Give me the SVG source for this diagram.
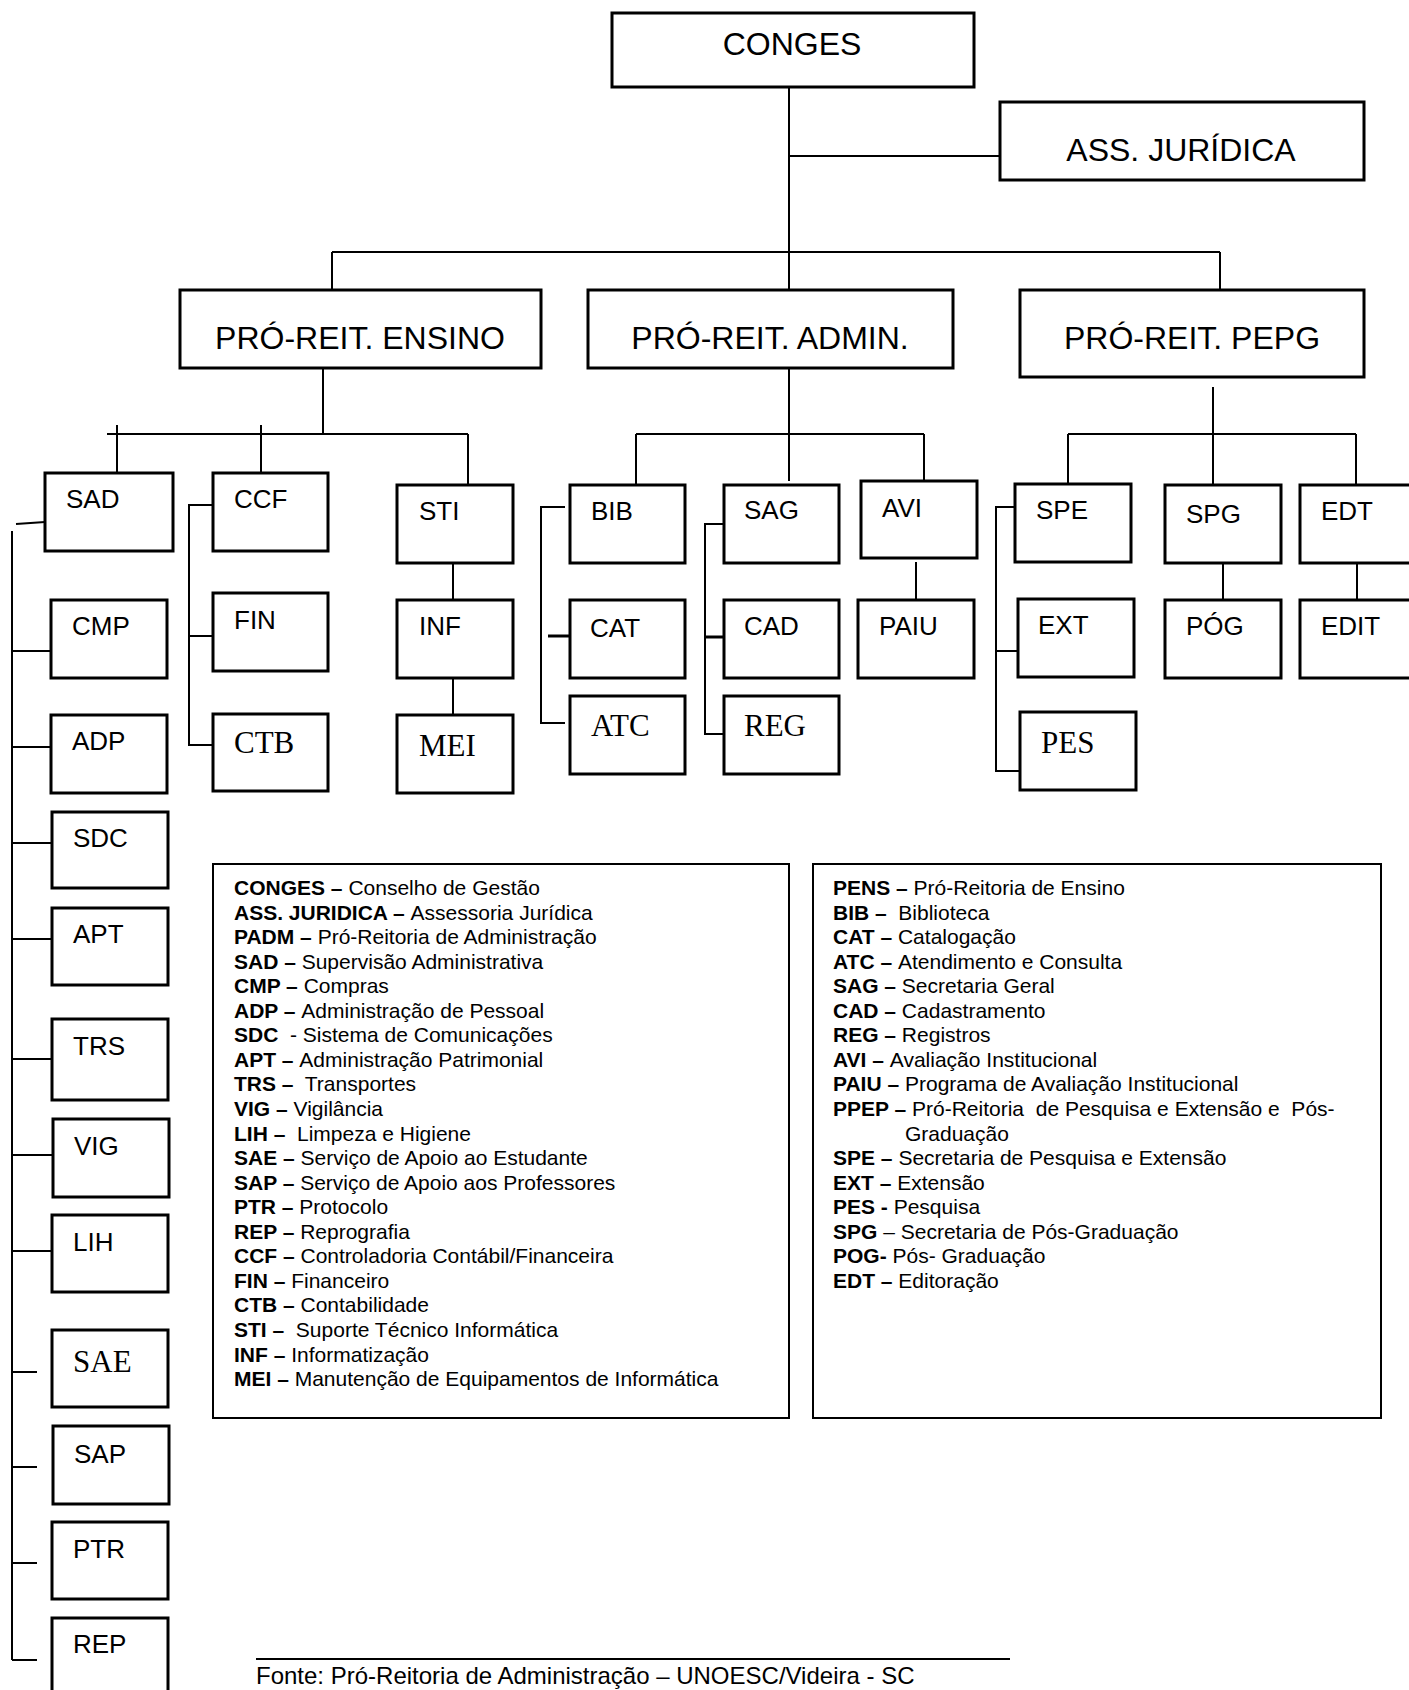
<svg xmlns="http://www.w3.org/2000/svg" width="1409" height="1690" viewBox="0 0 1409 1690">
<style>
.bg{fill:#fff}
.box{fill:#fff;stroke:#000;stroke-width:3}
.lg{fill:none;stroke:#000;stroke-width:2}
.c line,.c polyline{stroke:#000;stroke-width:2;fill:none}
.tt{font-family:"Liberation Sans",Arial,sans-serif;font-size:32px;fill:#000;text-anchor:middle}
.t{font-family:"Liberation Sans",Arial,sans-serif;font-size:26px;fill:#000}
.ts{font-family:"Liberation Serif","Times New Roman",serif;font-size:31px;fill:#000}
.l{font-family:"Liberation Sans",Arial,sans-serif;font-size:21px;fill:#000;white-space:pre}
.l .b{font-weight:bold}
.f{font-family:"Liberation Sans",Arial,sans-serif;font-size:24px;fill:#000}
</style>
<rect class="bg" x="0" y="0" width="1409" height="1690"/>

<g id="connectors" class="c">
  <line x1="789" y1="83" x2="789" y2="300"/>
  <line x1="789" y1="156" x2="1005" y2="156"/>
  <line x1="332" y1="252" x2="1220" y2="252"/>
  <line x1="332" y1="252" x2="332" y2="310"/>
  <line x1="1220" y1="252" x2="1220" y2="300"/>
  <!-- Ensino -->
  <line x1="323" y1="363" x2="323" y2="434"/>
  <line x1="107" y1="434" x2="468" y2="434"/>
  <line x1="117" y1="425" x2="117" y2="473"/>
  <line x1="261" y1="425" x2="261" y2="473"/>
  <line x1="468" y1="434" x2="468" y2="485"/>
  <!-- Admin -->
  <line x1="789" y1="360" x2="789" y2="481"/>
  <line x1="636" y1="434" x2="924" y2="434"/>
  <line x1="636" y1="434" x2="636" y2="485"/>
  <line x1="924" y1="434" x2="924" y2="483"/>
  <!-- PEPG -->
  <line x1="1213" y1="387" x2="1213" y2="485"/>
  <line x1="1068" y1="434" x2="1356" y2="434"/>
  <line x1="1068" y1="434" x2="1068" y2="484"/>
  <line x1="1356" y1="434" x2="1356" y2="485"/>
  <!-- SAD column -->
  <line x1="16" y1="524" x2="45" y2="522"/>
  <line x1="12" y1="531" x2="12" y2="1660"/>
  <line x1="12" y1="651" x2="60" y2="651"/>
  <line x1="12" y1="747" x2="60" y2="747"/>
  <line x1="12" y1="843" x2="61" y2="843"/>
  <line x1="12" y1="939" x2="61" y2="939"/>
  <line x1="12" y1="1059" x2="61" y2="1059"/>
  <line x1="12" y1="1155" x2="61" y2="1155"/>
  <line x1="12" y1="1251" x2="61" y2="1251"/>
  <line x1="12" y1="1372" x2="37" y2="1372"/>
  <line x1="12" y1="1467" x2="37" y2="1467"/>
  <line x1="12" y1="1563" x2="37" y2="1563"/>
  <line x1="12" y1="1660" x2="37" y2="1660"/>
  <!-- CCF group -->
  <polyline points="213,505 189,505 189,745 213,745"/>
  <line x1="189" y1="636" x2="213" y2="636"/>
  <!-- STI group -->
  <line x1="453" y1="553" x2="453" y2="600"/>
  <line x1="453" y1="673" x2="453" y2="722"/>
  <!-- BIB group -->
  <polyline points="565,507 541,507 541,723 565,723"/>
  <line x1="548" y1="636" x2="574" y2="636" style="stroke-width:3"/>
  <!-- SAG group -->
  <polyline points="724,524 705,524 705,734 724,734"/>
  <line x1="705" y1="637" x2="729" y2="637" style="stroke-width:3"/>
  <!-- AVI -->
  <line x1="916" y1="562" x2="916" y2="600"/>
  <!-- SPE group -->
  <polyline points="1015,507 996,507 996,771 1020,771"/>
  <line x1="996" y1="651" x2="1018" y2="651"/>
  <!-- SPG / EDT -->
  <line x1="1223" y1="563" x2="1223" y2="600"/>
  <line x1="1357" y1="563" x2="1357" y2="600"/>
</g>

<g id="CONGES"><rect class="box" x="612" y="13" width="362" height="74"/><text class="tt" x="792" y="55">CONGES</text></g>
<g id="ASS"><rect class="box" x="1000" y="102" width="364" height="78"/><text class="tt" x="1181" y="161">ASS. JURÍDICA</text></g>
<g id="ENSINO"><rect class="box" x="180" y="290" width="361" height="78"/><text class="tt" x="360" y="349">PRÓ-REIT. ENSINO</text></g>
<g id="ADMIN"><rect class="box" x="588" y="290" width="365" height="78"/><text class="tt" x="770" y="349">PRÓ-REIT. ADMIN.</text></g>
<g id="PEPG"><rect class="box" x="1020" y="290" width="344" height="87"/><text class="tt" x="1192" y="349">PRÓ-REIT. PEPG</text></g>

<g id="SAD"><rect class="box" x="45" y="473" width="128" height="78"/><text class="t" x="66" y="508">SAD</text></g>
<g id="CCF"><rect class="box" x="213" y="473" width="115" height="78"/><text class="t" x="234" y="508">CCF</text></g>
<g id="STI"><rect class="box" x="397" y="485" width="116" height="78"/><text class="t" x="419" y="520">STI</text></g>
<g id="BIB"><rect class="box" x="570" y="485" width="115" height="78"/><text class="t" x="591" y="520">BIB</text></g>
<g id="SAG"><rect class="box" x="724" y="485" width="115" height="78"/><text class="t" x="744" y="519">SAG</text></g>
<g id="AVI"><rect class="box" x="861" y="481" width="116" height="77"/><text class="t" x="882" y="517">AVI</text></g>
<g id="SPE"><rect class="box" x="1015" y="484" width="116" height="78"/><text class="t" x="1036" y="519">SPE</text></g>
<g id="SPG"><rect class="box" x="1165" y="485" width="116" height="78"/><text class="t" x="1186" y="523">SPG</text></g>
<g id="EDT"><rect class="box" x="1300" y="485" width="115" height="78"/><text class="t" x="1321" y="520">EDT</text></g>

<g id="CMP"><rect class="box" x="51" y="600" width="116" height="78"/><text class="t" x="72" y="635">CMP</text></g>
<g id="FIN"><rect class="box" x="213" y="593" width="115" height="78"/><text class="t" x="234" y="629">FIN</text></g>
<g id="INF"><rect class="box" x="397" y="600" width="116" height="78"/><text class="t" x="419" y="635">INF</text></g>
<g id="CAT"><rect class="box" x="570" y="600" width="115" height="78"/><text class="t" x="590" y="637">CAT</text></g>
<g id="CAD"><rect class="box" x="724" y="600" width="115" height="78"/><text class="t" x="744" y="635">CAD</text></g>
<g id="PAIU"><rect class="box" x="858" y="600" width="116" height="78"/><text class="t" x="879" y="635">PAIU</text></g>
<g id="EXT"><rect class="box" x="1018" y="599" width="116" height="78"/><text class="t" x="1038" y="634">EXT</text></g>
<g id="POG"><rect class="box" x="1165" y="600" width="116" height="78"/><text class="t" x="1186" y="635">PÓG</text></g>
<g id="EDIT"><rect class="box" x="1300" y="600" width="115" height="78"/><text class="t" x="1321" y="635">EDIT</text></g>

<g id="ADP"><rect class="box" x="51" y="715" width="116" height="78"/><text class="t" x="72" y="750">ADP</text></g>
<g id="CTB"><rect class="box" x="213" y="714" width="115" height="77"/><text class="ts" x="234" y="753">CTB</text></g>
<g id="MEI"><rect class="box" x="397" y="715" width="116" height="78"/><text class="ts" x="419" y="756">MEI</text></g>
<g id="ATC"><rect class="box" x="570" y="696" width="115" height="78"/><text class="ts" x="591" y="736">ATC</text></g>
<g id="REG"><rect class="box" x="724" y="696" width="115" height="78"/><text class="ts" x="744" y="736">REG</text></g>
<g id="PES"><rect class="box" x="1020" y="712" width="116" height="78"/><text class="ts" x="1041" y="753">PES</text></g>

<g id="SDC"><rect class="box" x="52" y="812" width="116" height="76"/><text class="t" x="73" y="847">SDC</text></g>
<g id="APT"><rect class="box" x="52" y="908" width="116" height="77"/><text class="t" x="73" y="943">APT</text></g>
<g id="TRS"><rect class="box" x="52" y="1019" width="116" height="81"/><text class="t" x="73" y="1055">TRS</text></g>
<g id="VIG"><rect class="box" x="53" y="1119" width="116" height="78"/><text class="t" x="74" y="1155">VIG</text></g>
<g id="LIH"><rect class="box" x="52" y="1215" width="116" height="77"/><text class="t" x="73" y="1251">LIH</text></g>
<g id="SAE"><rect class="box" x="52" y="1330" width="116" height="77"/><text class="ts" x="73" y="1372">SAE</text></g>
<g id="SAP"><rect class="box" x="53" y="1426" width="116" height="78"/><text class="t" x="74" y="1463">SAP</text></g>
<g id="PTR"><rect class="box" x="52" y="1522" width="116" height="77"/><text class="t" x="73" y="1558">PTR</text></g>
<g id="REP"><rect class="box" x="52" y="1618" width="116" height="80"/><text class="t" x="73" y="1653">REP</text></g>

<g id="legend-left">
  <rect class="lg" x="213" y="864" width="576" height="554"/>
  <text class="l" x="234" y="895"><tspan class="b">CONGES – </tspan>Conselho de Gestão</text>
  <text class="l" x="234" y="919.6"><tspan class="b">ASS. JURIDICA – </tspan>Assessoria Jurídica</text>
  <text class="l" x="234" y="944.1"><tspan class="b">PADM – </tspan>Pró-Reitoria de Administração</text>
  <text class="l" x="234" y="968.7"><tspan class="b">SAD – </tspan>Supervisão Administrativa</text>
  <text class="l" x="234" y="993.2"><tspan class="b">CMP – </tspan>Compras</text>
  <text class="l" x="234" y="1017.8"><tspan class="b">ADP – </tspan>Administração de Pessoal</text>
  <text class="l" x="234" y="1042.3"><tspan class="b">SDC </tspan> - Sistema de Comunicações</text>
  <text class="l" x="234" y="1066.9"><tspan class="b">APT – </tspan>Administração Patrimonial</text>
  <text class="l" x="234" y="1091.4"><tspan class="b">TRS – </tspan> Transportes</text>
  <text class="l" x="234" y="1116"><tspan class="b">VIG – </tspan>Vigilância</text>
  <text class="l" x="234" y="1140.5"><tspan class="b">LIH – </tspan> Limpeza e Higiene</text>
  <text class="l" x="234" y="1165.1"><tspan class="b">SAE – </tspan>Serviço de Apoio ao Estudante</text>
  <text class="l" x="234" y="1189.6"><tspan class="b">SAP – </tspan>Serviço de Apoio aos Professores</text>
  <text class="l" x="234" y="1214.2"><tspan class="b">PTR – </tspan>Protocolo</text>
  <text class="l" x="234" y="1238.7"><tspan class="b">REP – </tspan>Reprografia</text>
  <text class="l" x="234" y="1263.3"><tspan class="b">CCF – </tspan>Controladoria Contábil/Financeira</text>
  <text class="l" x="234" y="1287.8"><tspan class="b">FIN – </tspan>Financeiro</text>
  <text class="l" x="234" y="1312.4"><tspan class="b">CTB – </tspan>Contabilidade</text>
  <text class="l" x="234" y="1336.9"><tspan class="b">STI – </tspan> Suporte Técnico Informática</text>
  <text class="l" x="234" y="1361.5"><tspan class="b">INF – </tspan>Informatização</text>
  <text class="l" x="234" y="1386"><tspan class="b">MEI – </tspan>Manutenção de Equipamentos de Informática</text>
</g>

<g id="legend-right">
  <rect class="lg" x="813" y="864" width="568" height="554"/>
  <text class="l" x="833" y="895"><tspan class="b">PENS – </tspan>Pró-Reitoria de Ensino</text>
  <text class="l" x="833" y="919.6"><tspan class="b">BIB – </tspan> Biblioteca</text>
  <text class="l" x="833" y="944.1"><tspan class="b">CAT – </tspan>Catalogação</text>
  <text class="l" x="833" y="968.7"><tspan class="b">ATC – </tspan>Atendimento e Consulta</text>
  <text class="l" x="833" y="993.2"><tspan class="b">SAG – </tspan>Secretaria Geral</text>
  <text class="l" x="833" y="1017.8"><tspan class="b">CAD – </tspan>Cadastramento</text>
  <text class="l" x="833" y="1042.3"><tspan class="b">REG – </tspan>Registros</text>
  <text class="l" x="833" y="1066.9"><tspan class="b">AVI – </tspan>Avaliação Institucional</text>
  <text class="l" x="833" y="1091.4"><tspan class="b">PAIU – </tspan>Programa de Avaliação Institucional</text>
  <text class="l" x="833" y="1116"><tspan class="b">PPEP – </tspan>Pró-Reitoria  de Pesquisa e Extensão e  Pós-</text>
  <text class="l" x="905" y="1140.5">Graduação</text>
  <text class="l" x="833" y="1165.1"><tspan class="b">SPE – </tspan>Secretaria de Pesquisa e Extensão</text>
  <text class="l" x="833" y="1189.6"><tspan class="b">EXT – </tspan>Extensão</text>
  <text class="l" x="833" y="1214.2"><tspan class="b">PES - </tspan>Pesquisa</text>
  <text class="l" x="833" y="1238.7"><tspan class="b">SPG </tspan>– Secretaria de Pós-Graduação</text>
  <text class="l" x="833" y="1263.3"><tspan class="b">POG-</tspan> Pós- Graduação</text>
  <text class="l" x="833" y="1287.8"><tspan class="b">EDT – </tspan>Editoração</text>
</g>

<g id="footer">
  <line x1="256" y1="1659" x2="1010" y2="1659" stroke="#000" stroke-width="2"/>
  <text class="f" x="256" y="1684">Fonte: Pró-Reitoria de Administração – UNOESC/Videira - SC</text>
</g>
</svg>
